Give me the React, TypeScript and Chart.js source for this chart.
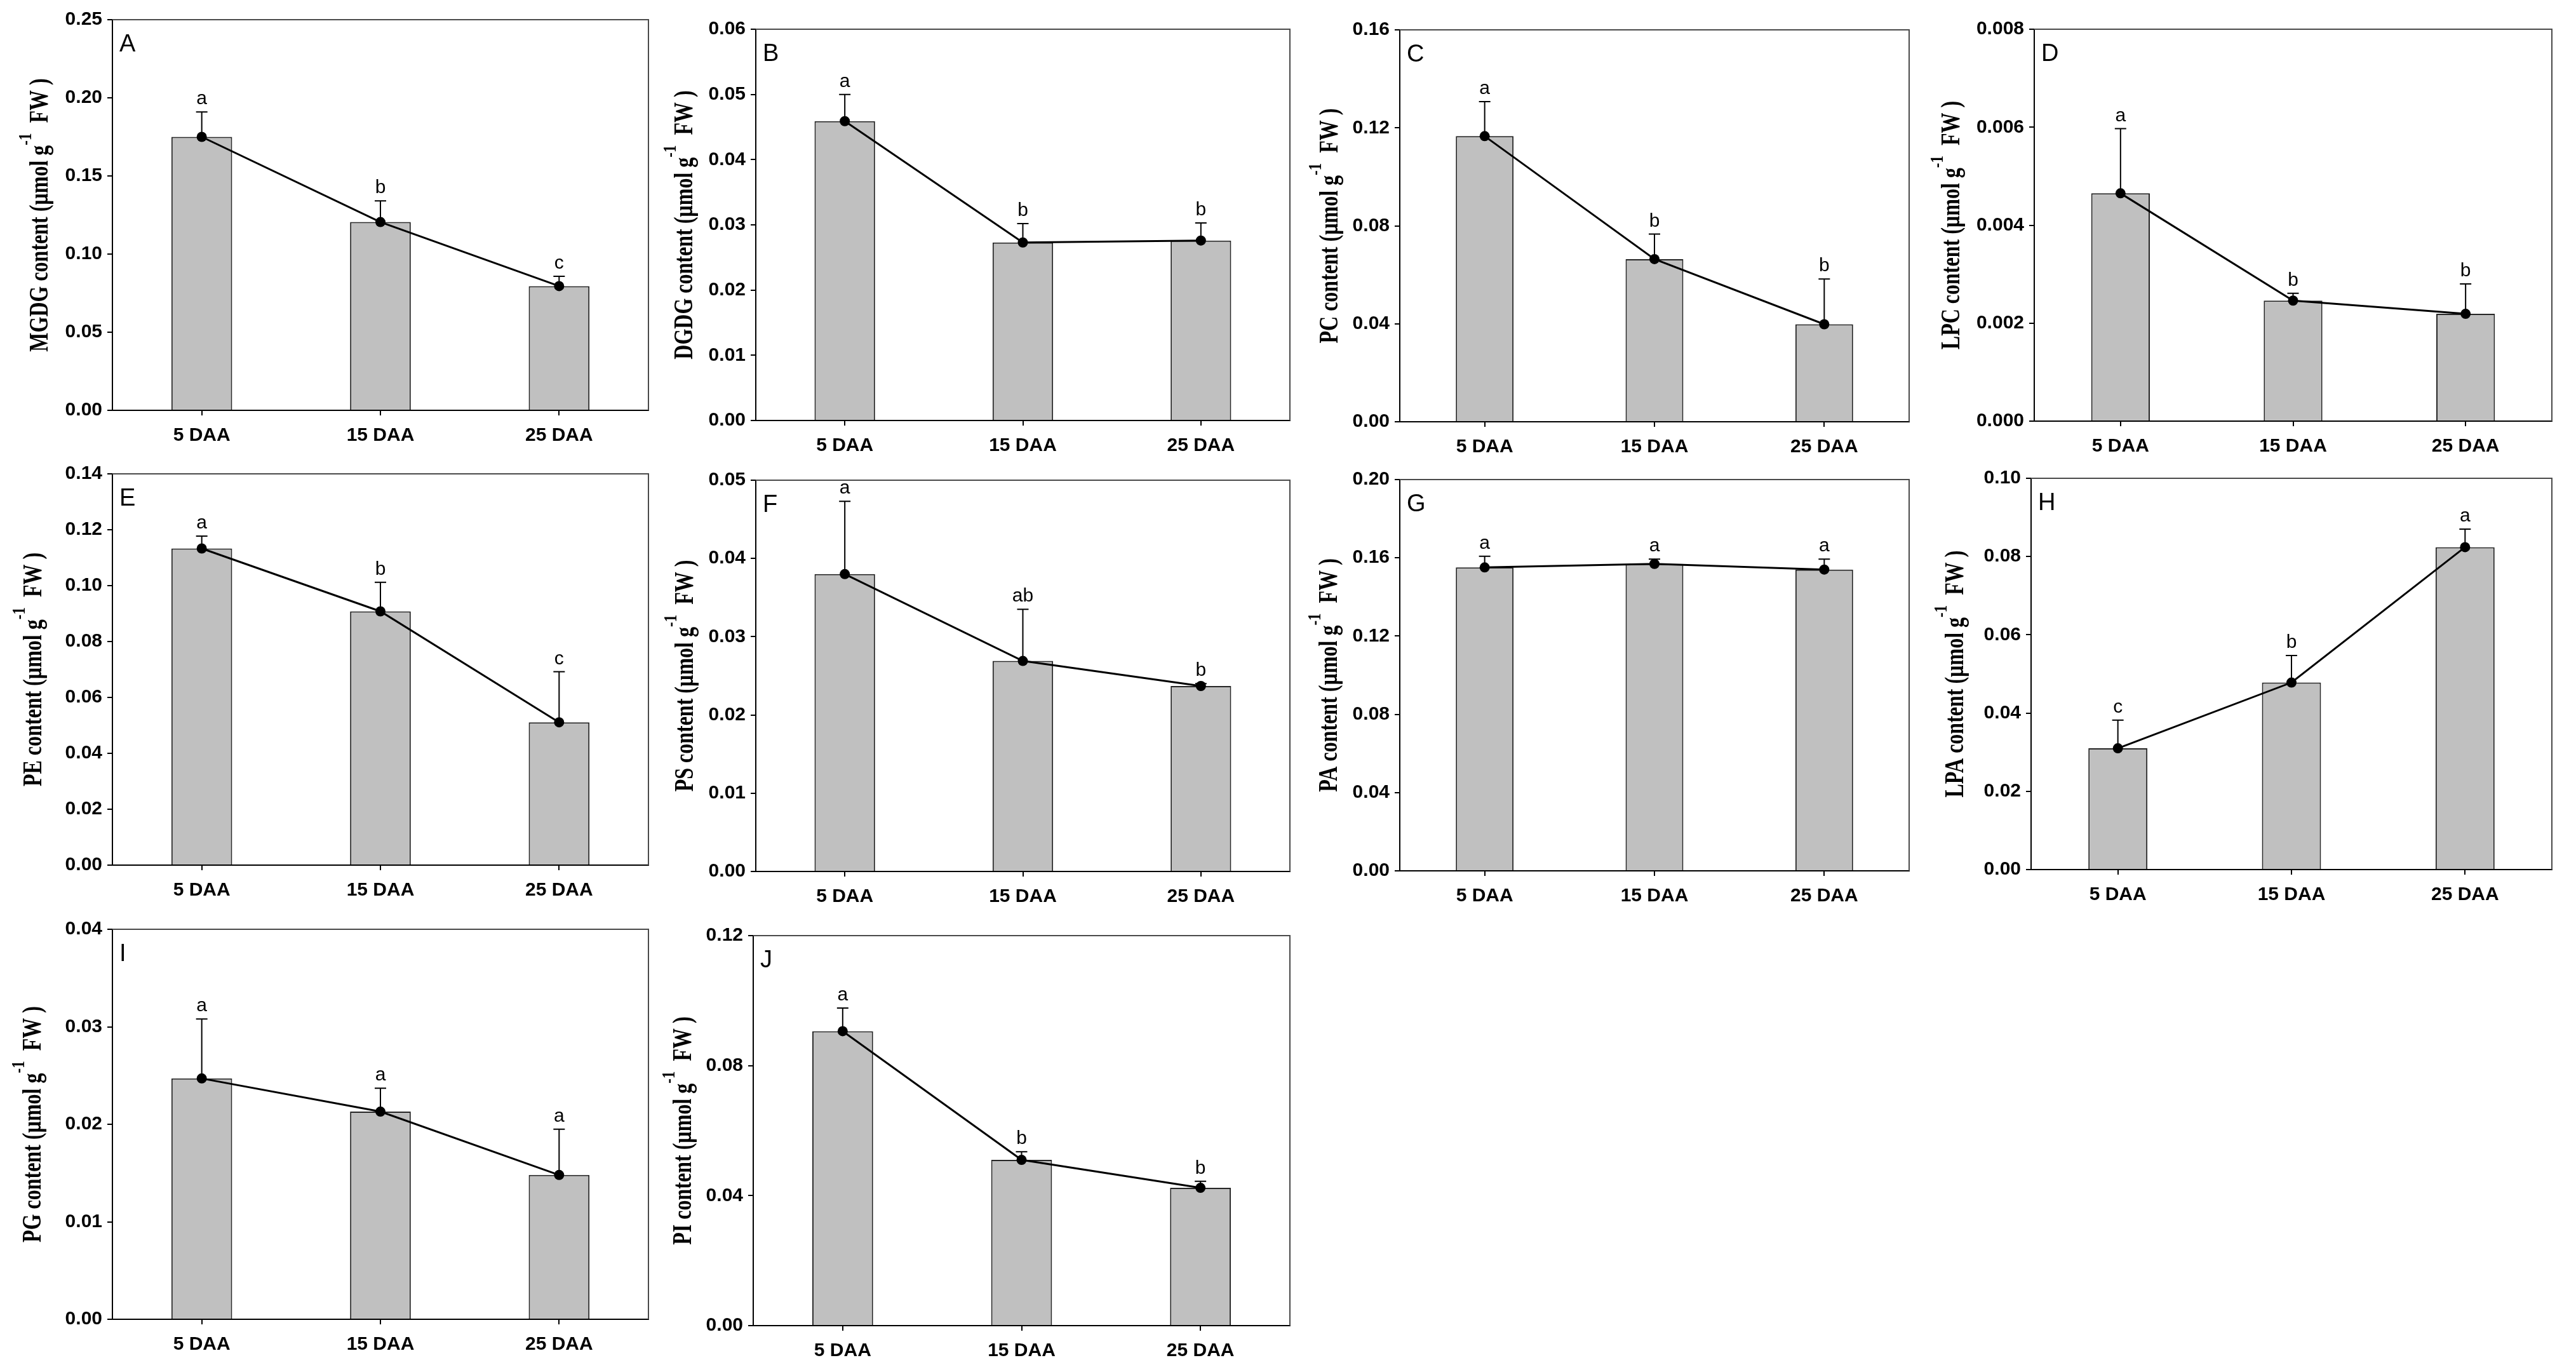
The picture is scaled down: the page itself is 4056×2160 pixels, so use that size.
import React, { useEffect, useRef } from "react";
import { Chart, registerables } from "chart.js";

Chart.register(...registerables);

// ---------- data ----------
const categories = ["5 DAA", "15 DAA", "25 DAA"];

const mgdgMean = [0.175, 0.1205, 0.0795];
const mgdgSd = [0.016, 0.0135, 0.0063];
const mgdgSig = ["a", "b", "c"];

const dgdgMean = [0.0459, 0.0273, 0.0276];
const dgdgSd = [0.0041, 0.0029, 0.0027];
const dgdgSig = ["a", "b", "b"];

const pcMean = [0.1166, 0.0664, 0.0398];
const pcSd = [0.0141, 0.0102, 0.0185];
const pcSig = ["a", "b", "b"];

const lpcMean = [0.00465, 0.00246, 0.00219];
const lpcSd = [0.00132, 0.00015, 0.00061];
const lpcSig = ["a", "b", "b"];

const peMean = [0.1133, 0.0908, 0.0511];
const peSd = [0.0044, 0.0104, 0.0181];
const peSig = ["a", "b", "c"];

const psMean = [0.038, 0.0269, 0.0237];
const psSd = [0.0093, 0.0066, 0.0003];
const psSig = ["a", "ab", "b"];

const paMean = [0.1551, 0.1569, 0.154];
const paSd = [0.0057, 0.0024, 0.0053];
const paSig = ["a", "a", "a"];

const lpaMean = [0.031, 0.0478, 0.0824];
const lpaSd = [0.0072, 0.0069, 0.0046];
const lpaSig = ["c", "b", "a"];

const pgMean = [0.0247, 0.0213, 0.0148];
const pgSd = [0.0061, 0.0024, 0.0047];
const pgSig = ["a", "a", "a"];

const piMean = [0.0906, 0.051, 0.0424];
const piSd = [0.0071, 0.0025, 0.002];
const piSig = ["a", "b", "b"];

const lipidNames = ["MGDG", "DGDG", "PC", "LPC", "PE", "PS", "PA", "LPA", "PG", "PI"];
const panelLetters = ["A", "B", "C", "D", "E", "F", "G", "H", "I", "J"];
const yMax = [0.25, 0.06, 0.16, 0.008, 0.14, 0.05, 0.2, 0.1, 0.04, 0.12];
const yStep = [0.05, 0.01, 0.04, 0.002, 0.02, 0.01, 0.04, 0.02, 0.01, 0.04];
const yDecimals = [2, 2, 2, 3, 2, 2, 2, 2, 2, 2];

const means = [mgdgMean, dgdgMean, pcMean, lpcMean, peMean, psMean, paMean, lpaMean, pgMean, piMean];
const sds = [mgdgSd, dgdgSd, pcSd, lpcSd, peSd, psSd, paSd, lpaSd, pgSd, piSd];
const sigs = [mgdgSig, dgdgSig, pcSig, lpcSig, peSig, psSig, paSig, lpaSig, pgSig, piSig];

// ---------- layout (plot area rectangles in page pixels: left, top, right, bottom) ----------
const RECTS: number[][] = [
  [177, 31, 1021, 646],
  [1190, 46, 2031, 662],
  [2204, 47, 3006, 664],
  [3203, 46, 4018, 663],
  [177, 746, 1021, 1362],
  [1190, 756, 2031, 1372],
  [2204, 755, 3006, 1371],
  [3198, 753, 4018, 1369],
  [177, 1463, 1021, 2077],
  [1186, 1473, 2031, 2087],
];
// distance from plot left edge to y-title baseline
const TITLE_DIST = [102, 100, 98, 118, 112, 99, 99, 107, 113, 98];

const YW = 190; // y-axis box width
const XH = 80; // x-axis box height
const TP = 30; // top padding
const RP = 24; // right padding

const TICK_FONT = "'Liberation Sans', Arial, 'DejaVu Sans', sans-serif";
const TITLE_FONT = "'Liberation Serif', 'Times New Roman', 'DejaVu Serif', serif";
const TITLE_SIZE = 32;
const TITLE_STRETCH = 1.3;

function drawYTitle(ctx: CanvasRenderingContext2D, name: string, bx: number, cy: number) {
  const main1 = `${name} content (µmol g`;
  const sup = "-1";
  const main2 = "  FW )";
  const fMain = `bold ${TITLE_SIZE}px ${TITLE_FONT}`;
  const fSup = `bold ${Math.round(TITLE_SIZE * 0.72)}px ${TITLE_FONT}`;
  ctx.save();
  ctx.font = fMain;
  const w1 = ctx.measureText(main1).width;
  const w3 = ctx.measureText(main2).width;
  ctx.font = fSup;
  const w2 = ctx.measureText(sup).width;
  const total = w1 + w2 + w3;
  ctx.translate(bx, cy);
  ctx.rotate(-Math.PI / 2);
  ctx.scale(1, TITLE_STRETCH);
  ctx.fillStyle = "#000";
  ctx.textAlign = "left";
  ctx.textBaseline = "alphabetic";
  let x = -total / 2;
  ctx.font = fMain;
  ctx.fillText(main1, x, 0);
  x += w1;
  ctx.font = fSup;
  ctx.fillText(sup, x, -TITLE_SIZE * 0.62);
  x += w2;
  ctx.font = fMain;
  ctx.fillText(main2, x, 0);
  ctx.restore();
}

const decoPlugin = {
  id: "panelDeco",
  afterDatasetDraw(chart: any, args: any, opts: any) {
    if (args.meta.type !== "bar") return;
    const ctx = chart.ctx;
    const y = chart.scales.y;
    const meta = args.meta;
    ctx.save();
    ctx.strokeStyle = "#000";
    ctx.lineWidth = 2;
    meta.data.forEach((bar: any, i: number) => {
      const m = opts.mean[i];
      const top = y.getPixelForValue(m + opts.sd[i]);
      const base = y.getPixelForValue(m);
      ctx.beginPath();
      ctx.moveTo(bar.x, base);
      ctx.lineTo(bar.x, top);
      ctx.moveTo(bar.x - 9, top);
      ctx.lineTo(bar.x + 9, top);
      ctx.stroke();
    });
    ctx.restore();
  },
  afterDraw(chart: any, _args: any, opts: any) {
    const ctx = chart.ctx;
    const a = chart.chartArea;
    const y = chart.scales.y;
    const x = chart.scales.x;
    ctx.save();
    // frame top & right
    ctx.strokeStyle = "#4a4a4a";
    ctx.lineWidth = 2;
    ctx.beginPath();
    ctx.moveTo(a.left, a.top);
    ctx.lineTo(a.right, a.top);
    ctx.lineTo(a.right, a.bottom);
    ctx.stroke();
    // panel letter
    ctx.fillStyle = "#000";
    ctx.font = `38px ${TICK_FONT}`;
    ctx.textAlign = "left";
    ctx.textBaseline = "alphabetic";
    ctx.fillText(opts.letter, a.left + 11, a.top + 50);
    // significance letters
    ctx.font = `30px ${TICK_FONT}`;
    ctx.textAlign = "center";
    opts.sig.forEach((s: string, i: number) => {
      const px = x.getPixelForValue(i);
      const py = y.getPixelForValue(opts.mean[i] + opts.sd[i]);
      ctx.fillText(s, px, py - 12);
    });
    ctx.restore();
    // y title
    drawYTitle(ctx, opts.name, a.left - opts.titleDist, (a.top + a.bottom) / 2);
  },
};

function Panel({ idx }: { idx: number }) {
  const ref = useRef<HTMLCanvasElement>(null);
  const [l, t, r, b] = RECTS[idx];
  const W = YW + (r - l) + RP;
  const H = TP + (b - t) + XH;

  useEffect(() => {
    const canvas = ref.current;
    if (!canvas) return;
    const dec = yDecimals[idx];
    const chart = new Chart(canvas, {
      type: "bar",
      data: {
        labels: categories,
        datasets: [
          {
            type: "bar",
            data: means[idx],
            backgroundColor: "#c0c0c0",
            borderColor: "#262626",
            borderWidth: 2,
            barPercentage: 0.34,
            categoryPercentage: 1,
            order: 1,
          } as any,
          {
            type: "line",
            data: means[idx],
            borderColor: "#000",
            borderWidth: 3,
            pointRadius: 8,
            pointBackgroundColor: "#000",
            pointBorderColor: "#000",
            pointBorderWidth: 0,
            tension: 0,
            fill: false,
            order: 0,
          } as any,
        ],
      },
      options: {
        animation: false,
        responsive: false,
        maintainAspectRatio: false,
        devicePixelRatio: 1,
        events: [],
        layout: { padding: { top: TP, right: RP, left: 0, bottom: 0 } },
        plugins: {
          legend: { display: false },
          tooltip: { enabled: false },
          panelDeco: {
            mean: means[idx],
            sd: sds[idx],
            sig: sigs[idx],
            letter: panelLetters[idx],
            name: lipidNames[idx],
            titleDist: TITLE_DIST[idx],
          },
        } as any,
        scales: {
          x: {
            type: "category",
            offset: true,
            grid: {
              display: true,
              drawOnChartArea: false,
              drawTicks: true,
              tickLength: 8,
              tickColor: "#000",
              lineWidth: 2,
              offset: false,
            },
            border: { display: true, color: "#000", width: 2 },
            ticks: {
              color: "#000",
              padding: 14,
              font: { family: TICK_FONT, size: 30, weight: "bold" },
            },
            afterFit: (s: any) => {
              s.height = XH;
            },
          },
          y: {
            min: 0,
            max: yMax[idx],
            ticks: {
              stepSize: yStep[idx],
              color: "#000",
              padding: 8,
              font: { family: TICK_FONT, size: 30, weight: "bold" },
              callback: (v: any) => Number(v).toFixed(dec),
            },
            grid: {
              display: true,
              drawOnChartArea: false,
              drawTicks: true,
              tickLength: 8,
              tickColor: "#000",
              lineWidth: 2,
            },
            border: { display: true, color: "#000", width: 2 },
            title: { display: false },
            afterFit: (s: any) => {
              s.width = YW;
            },
          },
        },
      } as any,
      plugins: [decoPlugin as any],
    });
    return () => chart.destroy();
  }, [idx]);

  return (
    <canvas
      ref={ref}
      width={W}
      height={H}
      style={{ position: "absolute", left: l - YW, top: t - TP, width: W, height: H }}
    />
  );
}

export default function App() {
  return (
    <div
      style={{
        position: "absolute",
        left: 0,
        top: 0,
        width: 4056,
        height: 2160,
        background: "#fff",
        overflow: "hidden",
      }}
    >
      {lipidNames.map((_, i) => (
        <Panel key={i} idx={i} />
      ))}
    </div>
  );
}
